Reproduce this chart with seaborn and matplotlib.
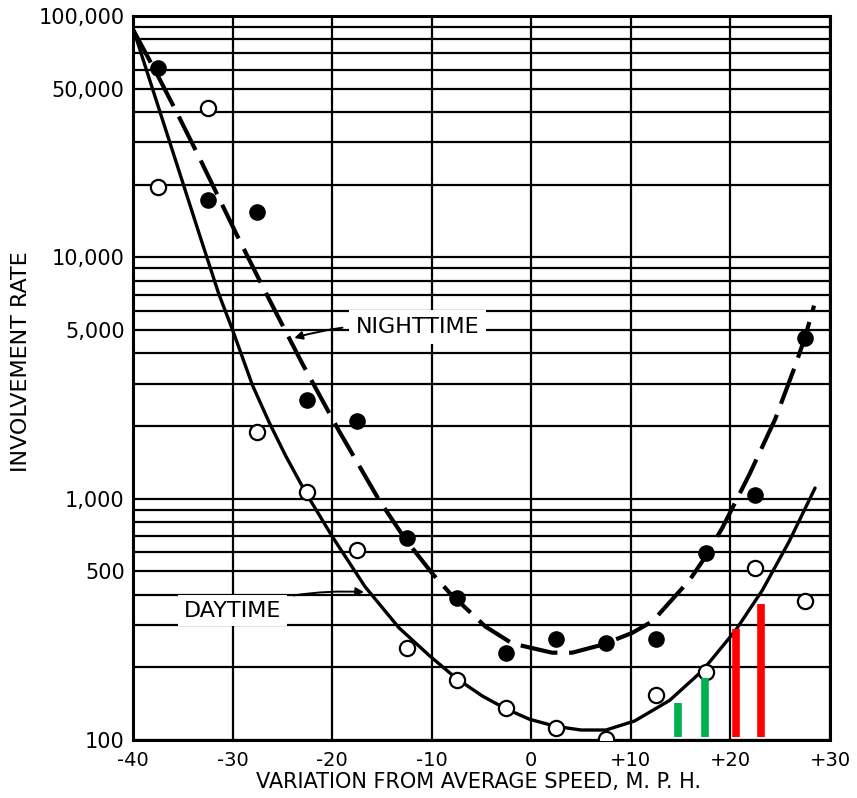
import matplotlib
matplotlib.use("Agg")
import matplotlib.pyplot as plt
import seaborn as sns

# ---- data ----
point_x = [-37.5, -32.5, -27.5, -22.5, -17.5, -12.5, -7.5, -2.5, 2.5, 7.5, 12.5, 17.5, 22.5, 27.5]
night_points = [61000, 17300, 15400, 2560, 2100, 687, 387, 229, 262, 252, 262, 596, 1040, 4650]
day_points = [19600, 41600, 1890, 1066, 613, 240, 177, 136, 112, 101, 154, 191, 516, 377]

# fitted curves
day_curve_x = [-40, -35.1, -33.4, -31.4, -30.0, -28.0, -26.3, -24.7, -22.7, -20.0,
               -16.7, -13.3, -10.25, -7.6, -4.9, -2.6, -0.2, 2.4, 5.0, 7.5, 10.4,
               13.9, 17.2, 20.5, 23.2, 25.9, 28.5]
day_curve = [89000, 21000, 12700, 7080, 5000, 2950, 2060, 1514, 1067, 698,
             432, 292, 224, 181, 152, 135, 122, 114, 110, 110, 120,
             146, 194, 284, 417, 665, 1107]
night_curve_x = [-40, -37.6, -35.6, -33.3, -29.6, -27.3, -26.0, -23.0, -19.3, -15.3, -12.7,
                 -9.95, -8.2, -4.6, -1.9, 2.1, 4.1, 7.1, 10.15, 12.2, 15.9, 17.5,
                 19.2, 21.9, 24.5, 26.5, 27.5, 28.4]
night_curve = [87900, 57540, 39810, 25700, 12450, 8040, 6310, 3630, 1905, 989, 684,
               490, 407, 295, 251, 230, 230, 248, 278, 311, 460, 575,
               759, 1259, 2138, 3548, 4677, 6310]

bar_x = [14.7, 17.4, 20.6, 23.1]
bar_top = [142, 181, 288, 366]
bar_colors = ["#00b050", "#00b050", "#ff0000", "#ff0000"]

x_ticks = [-40, -30, -20, -10, 0, 10, 20, 30]
x_tick_labels = ["-40", "-30", "-20", "-10", "0", "+10", "+20", "+30"]
y_labeled = {100: "100", 500: "500", 1000: "1,000", 5000: "5,000",
             10000: "10,000", 50000: "50,000", 100000: "100,000"}

# ---- figure ----
sns.set_theme(style="white")
plt.rcParams['font.family'] = ['DejaVu Sans']
fig = plt.figure(figsize=(8.57, 7.98), dpi=100)
ax = fig.add_axes([133 / 857, 58 / 798, (830 - 133) / 857, (740 - 16) / 798])
ax.set_yscale("log")
ax.set_xlim(-40, 30)
ax.set_ylim(100, 100000)

# grid: every 1..9 x 10^k horizontally, every 10 mph vertically
y_grid = [m * 10 ** k for k in range(2, 5) for m in range(1, 10)] + [100000]
ax.set_yticks(y_grid)
ax.set_yticklabels([y_labeled.get(v, "") for v in y_grid])
ax.yaxis.set_minor_locator(matplotlib.ticker.NullLocator())
ax.set_xticks(x_ticks)
ax.set_xticklabels(x_tick_labels)
ax.grid(True, which="major", color="black", linewidth=1.6)
ax.set_axisbelow(True)
for s in ax.spines.values():
    s.set_color("black")
    s.set_linewidth(2.2)
ax.tick_params(axis="both", length=0, colors="black")
ax.tick_params(axis="x", pad=8, labelsize=14)
ax.tick_params(axis="y", pad=6, labelsize=15)

# curves
sns.lineplot(x=day_curve_x, y=day_curve, ax=ax, color="black", linewidth=2.4, zorder=3,
             sort=False)
sns.lineplot(x=night_curve_x, y=night_curve, ax=ax, color="black", linewidth=3.0,
             linestyle=(0, (9, 2.8)), zorder=3, sort=False)

# points
sns.scatterplot(x=point_x, y=day_points, ax=ax, marker="o", s=120, facecolor="white",
                edgecolor="black", linewidth=1.6, zorder=5)
sns.scatterplot(x=point_x, y=night_points, ax=ax, marker="o", s=120, color="black",
                edgecolor="black", linewidth=1.0, zorder=5)

# coloured bars
ax.vlines(bar_x, 103, bar_top, colors=bar_colors, linewidth=5.5, zorder=6)

# annotations
ax.annotate("NIGHTTIME", xy=(-23.8, 4634), xytext=(-17.6, 5150),
            fontsize=16, color="black", va="center", ha="left",
            bbox=dict(boxstyle="square,pad=0.3", fc="white", ec="none"),
            arrowprops=dict(arrowstyle="-|>", color="black", lw=1.4,
                            shrinkA=5, shrinkB=0, mutation_scale=12,
                            connectionstyle="arc3,rad=0.1"),
            zorder=7)
ax.annotate("DAYTIME", xy=(-16.8, 410), xytext=(-34.9, 343),
            fontsize=16, color="black", va="center", ha="left",
            bbox=dict(boxstyle="square,pad=0.25", fc="white", ec="none"),
            arrowprops=dict(arrowstyle="-|>", color="black", lw=1.4,
                            shrinkA=5, shrinkB=0, mutation_scale=12,
                            connectionstyle="arc3,rad=-0.1"),
            zorder=7)

ax.set_ylabel("INVOLVEMENT RATE", fontsize=16, color="black")
ax.yaxis.set_label_coords((21 - 133) / 697, (740 - 362) / 724)
ax.yaxis.label.set_va("center")
ax.set_xlabel("VARIATION FROM AVERAGE SPEED, M. P. H.", fontsize=15, color="black")
ax.xaxis.set_label_coords((478 - 133) / 697, (740 - 782) / 724)
ax.xaxis.label.set_va("center")

fig.savefig("out.png", dpi=100, facecolor="white")
